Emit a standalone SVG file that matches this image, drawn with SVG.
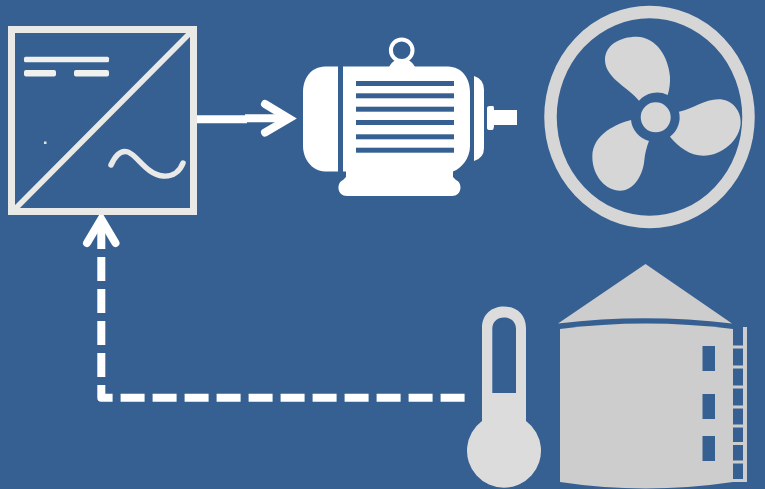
<svg xmlns="http://www.w3.org/2000/svg" width="765" height="489" viewBox="0 0 765 489">
<style>
.vfd{fill:none;stroke:#e9e9e7;stroke-linecap:round}
.w{fill:#fff}
.bg{fill:#366092}
.fan{fill:#d6d6d6}
.th{fill:#dcdcdc}
.silo{fill:#cdcdcd}
.conn{fill:none;stroke:#fff;stroke-width:8}
.head{fill:none;stroke:#fff;stroke-width:8;stroke-linecap:round;stroke-linejoin:miter}
</style>
<rect width="765" height="489" class="bg"/>
<g id="connectors">
<path d="M197 119.200H247" class="conn"/>
<path d="M245 118.300H288" class="conn"/>
<polyline points="265,104 289,118.500 265,132.500" class="head"/>
<path d="M101.300 225V397.700H465" class="conn" stroke-dasharray="24 8" stroke-linejoin="round"/>
<polyline points="87,243 101.300,219 115.500,243" class="head"/>
</g>
<g id="drive">
<rect x="11.500" y="29.500" width="182" height="182" fill="none" stroke="#e9e9e7" stroke-width="7"/>
<path d="M16 208L190 33" class="vfd" stroke-width="5.500"/>
<rect x="24" y="56.700" width="85" height="5.600" rx="1.500" fill="#f0f0ee"/>
<rect x="24" y="70" width="32" height="6.500" rx="2" fill="#f0f0ee"/>
<rect x="74" y="70" width="35" height="6.500" rx="2" fill="#f0f0ee"/>
<rect x="44" y="141.500" width="2.500" height="2.500" fill="#dfe3e8"/>
<path d="M111 165C116 154 122 150 128 152C137 155 147 175 163 176C173 177 180 171 183 163" class="vfd" stroke-width="5.500"/>
</g>
<g id="motor">
<circle cx="401.700" cy="50.300" r="10.800" fill="none" stroke="#fff" stroke-width="4"/>
<path d="M389 67Q392 61 397 60H407Q412 61 415 67Z" class="w"/>
<path d="M338 66.500V171.500H325C311 171 303 158 303 146V92C303 78 311 67 325 66.500Z" class="w"/>
<path d="M343 66.500H448C462 67 470 78 470 92V146C470 158 462 168 453 171.500V177L456 180C463 183 462 196 452 196H347C337 196 336 183 343 180L346 177V171.500H343Z" class="w"/>
<rect x="356" y="81" width="98" height="5" class="bg"/>
<rect x="356" y="93.300" width="98" height="5" class="bg"/>
<rect x="356" y="106.700" width="98" height="5" class="bg"/>
<rect x="356" y="120" width="98" height="5" class="bg"/>
<rect x="356" y="134.300" width="98" height="5" class="bg"/>
<rect x="356" y="147.700" width="98" height="5" class="bg"/>
<path d="M474 76Q484 79 484 90V148Q484 158 474 161Z" class="w"/>
<path d="M487 108Q487 106 490 106H493Q494 106 494 110H517V125H494Q494 130 492 130H490Q487 130 487 128Z" class="w"/>
</g>
<g id="fan">
<ellipse cx="649.500" cy="117" rx="99" ry="105" fill="none" stroke="#d6d6d6" stroke-width="12.500"/>
<circle cx="655.700" cy="117.300" r="15" class="fan"/>
<g transform="translate(535 0) scale(.33333)" class="fan">
<path d="M312 302C285 265 210 235 210 180C210 135 255 110 305 110C365 112 400 170 405 230Q406 260 398 285A73 73 0 0 0 312 302Z"/>
<path d="M432 335C470 328 510 298 550 298C590 298 617 330 617 365C617 420 560 467 505 467C465 467 430 440 405 410A73 73 0 0 0 432 335Z"/>
<path d="M288 360C250 370 172 400 172 470C172 530 215 572 255 572C300 572 325 520 328 480C330 460 335 440 342 423A73 73 0 0 1 288 360Z"/>
</g>
</g>
<g id="thermometer">
<path fill-rule="evenodd" d="M482 328C482 314 492 306.500 504 306.500C516 306.500 526 314 526 328V421A37 37 0 1 1 482 421ZM492.300 393H516V329C516 322 511 317.500 504 317.500C497 317.500 492.300 322 492.300 329Z" class="th"/>
</g>
<g id="silo">
<path d="M645.500 264L732 323.500Q645 313 558 323.500Z" class="silo"/>
<path d="M560 329Q645 318 733 329V482Q645 495 560 482Z" class="silo"/>
<rect x="702.500" y="346" width="12.500" height="25" class="bg"/>
<rect x="702.500" y="394" width="12.500" height="25" class="bg"/>
<rect x="702.500" y="436" width="12.500" height="25" class="bg"/>
<g class="silo">
<rect x="743" y="327" width="4" height="154"/>
<rect x="733" y="345.500" width="10" height="3"/>
<rect x="733" y="365.500" width="10" height="3"/>
<rect x="733" y="385.500" width="10" height="3"/>
<rect x="733" y="405.500" width="10" height="3"/>
<rect x="733" y="424.500" width="10" height="3"/>
<rect x="733" y="442" width="10" height="3"/>
<rect x="733" y="460.500" width="10" height="3"/>
<rect x="733" y="479" width="14" height="3"/>
</g>
</g>
</svg>
